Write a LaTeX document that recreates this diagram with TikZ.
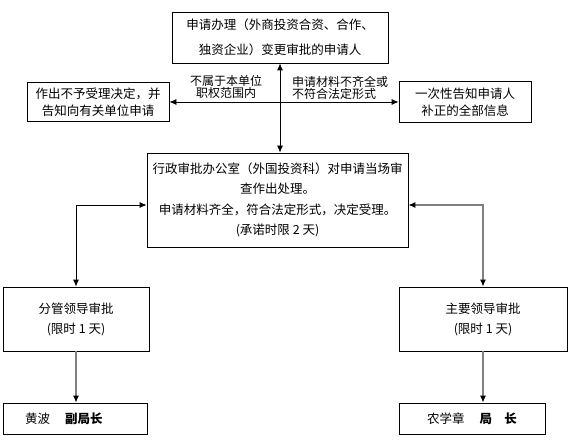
\documentclass[tikz,border=0pt]{standalone}
\usepackage{fontspec}
\newfontfamily\cjk{Noto Sans CJK SC}
\usetikzlibrary{arrows.meta}

\begin{document}
\begin{tikzpicture}[
    x=1pt, y=-1pt,
    >={Latex[length=7pt,width=6pt]},
    stepbox/.style={
        draw,
        line width=0.8pt,
        inner sep=0pt,
        align=center,
        font=\cjk\fontsize{12.5}{17}\selectfont
    },
    caption/.style={
        inner sep=0pt,
        font=\cjk\fontsize{12}{12}\selectfont
    },
    flow/.style={
        line width=0.8pt
    },
    greyflow/.style={
        line width=1.2pt,
        draw=black!50,
        >={Latex[length=7pt,width=6pt,color=black]}
    }
]

\fill[white] (0,0) rectangle (572,446);

% Applicant
\node[stepbox, minimum width=216, minimum height=51,
      font=\cjk\fontsize{12.5}{25}\selectfont] (apply) at (280,37.5)
    {申请办理（外商投资合资、合作、\\独资企业）变更审批的申请人};

% Side outcomes
\node[stepbox, minimum width=142, minimum height=39] (refuse) at (98,102)
    {作出不予受理决定，并\\告知向有关单位申请};
\node[stepbox, minimum width=132, minimum height=41] (notice) at (465,102)
    {一次性告知申请人\\补正的全部信息};

% Office
\node[stepbox, minimum width=261, minimum height=94,
      font=\cjk\fontsize{12.5}{20.5}\selectfont] (office) at (277.5,200)
    {行政审批办公室（外国投资科）对申请当场审\\查作出处理。\\
     申请材料齐全，符合法定形式，决定受理。\\(承诺时限 2 天)};

% Leaders
\node[stepbox, minimum width=146, minimum height=64,
      font=\cjk\fontsize{12.5}{20}\selectfont] (lead1) at (76,319)
    {分管领导审批\\(限时 1 天)};
\node[stepbox, minimum width=168, minimum height=64,
      font=\cjk\fontsize{12.5}{20}\selectfont] (lead2) at (483,319)
    {主要领导审批\\(限时 1 天)};

% Names
\node[stepbox, minimum width=144, minimum height=31] (name1) at (75,418.5)
    {黄波\hspace{1.2em}{\bfseries 副局长}\hspace{1.8em}};
\node[stepbox, minimum width=146, minimum height=31] (name2) at (472,418.5)
    {农学章\hspace{1.2em}{\bfseries 局\hspace{1em}长}};

% Connections
\draw[flow, <->] (apply.south) -- (apply.south |- office.north);
\draw[flow, <->] (refuse.east) -- (notice.west);

\node[caption, align=center] (outscope) at (226,87)
    {不属于本单位\\职权范围内};
\node[caption, align=left, anchor=west] (incomplete) at (292,88)
    {申请材料不齐全或\\不符合法定形式};

\draw[flow, <->] ([yshift=-5pt]office.west) -| (lead1.north);
\draw[greyflow, <->] ([yshift=-5pt]office.east) -| (lead2.north);

\draw[greyflow, ->] (lead1.south) -- (lead1.south |- name1.north);
\draw[greyflow, ->] (lead2.south) -- (lead2.south |- name2.north);

\end{tikzpicture}
\end{document}
